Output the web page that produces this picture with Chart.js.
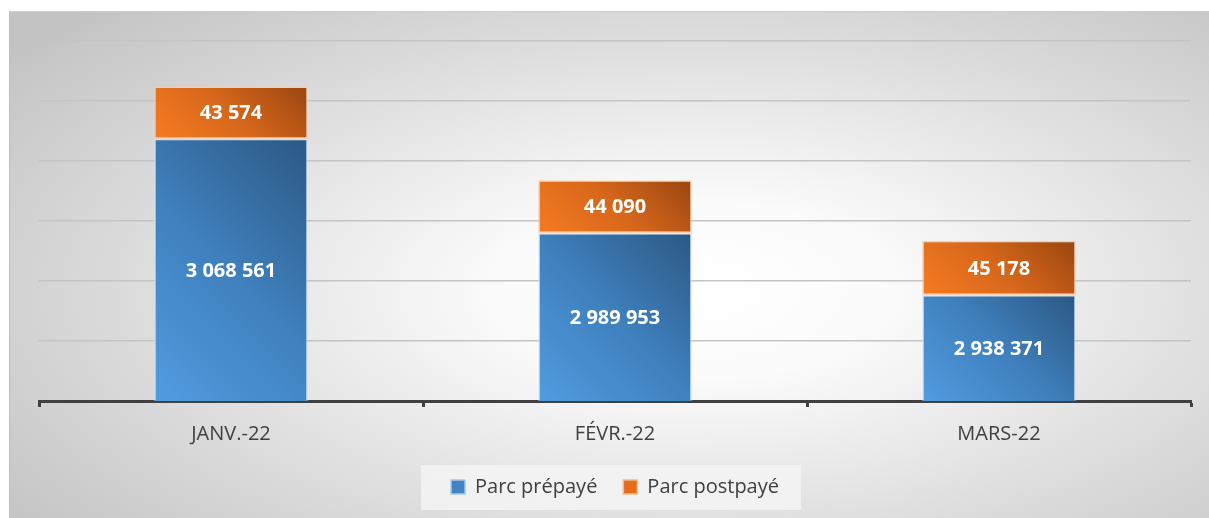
<!DOCTYPE html>
<html>
<head>
<meta charset="utf-8">
<script src="https://cdn.jsdelivr.net/npm/chart.js"></script>
<style>
  html, body { margin: 0; padding: 0; background: #fff; }
  #panel {
    position: absolute; left: 9px; top: 11px; width: 1200px; height: 507px;
    background: radial-gradient(ellipse 72% 78% at 57% 55%, #ffffff 0%, #fbfbfb 22%, #dedede 62%, #c3c3c3 100%);
    border-left: 1px solid #bdbdbd; border-top: 1px solid #cfcfcf; box-sizing: border-box;
  }
</style>
</head>
<body>
<div id="panel"><canvas id="chart" width="1199" height="506"></canvas></div>
<script>
// data
const months = ['JANV.-22', 'FÉVR.-22', 'MARS-22'];
const prepaye = [3068561, 2989953, 2938371];
const postpaye = [43574, 44090, 45178];
const seriesNames = ['Parc prépayé', 'Parc postpayé'];
const yMin = 2850000, yMax = 3150000, yStep = 50000;

const BAR_PCT = 0.4;
const FONT = '"Open Sans", "Noto Sans", sans-serif';
const SOLID = ['#4084c4', '#e46c1c'];

// number with french spaces: 3 068 561
const fmt = v => String(v).replace(/\B(?=(\d{3})+(?!\d))/g, ' ');

// 45deg gradient per bar segment (light bottom-left -> dark top-right)
function segFill(light, mid, dark, solid) {
  return function (ctx) {
    const chart = ctx.chart;
    if (ctx.type !== 'data' || !chart.chartArea) return solid;
    const xs = chart.scales.x, ys = chart.scales.y;
    const i = ctx.dataIndex;
    let base = 0;
    for (let d = 0; d < ctx.datasetIndex; d++) base += chart.data.datasets[d].data[i];
    const top = base + chart.data.datasets[ctx.datasetIndex].data[i];
    const cx = xs.getPixelForValue(i);
    const half = xs.width / months.length * BAR_PCT / 2;
    const yb = ys.getPixelForValue(Math.max(base, yMin));
    const yt = ys.getPixelForValue(top);
    const t = (2 * half + (yb - yt)) / 2;
    const g = chart.ctx.createLinearGradient(cx - half, yb, cx - half + t, yb - t);
    g.addColorStop(0, light);
    g.addColorStop(0.5, mid);
    g.addColorStop(1, dark);
    return g;
  };
}

// white value labels in the middle of each segment
const valueLabels = {
  id: 'valueLabels',
  afterDatasetsDraw(chart) {
    const c = chart.ctx;
    const bottom = chart.chartArea.bottom;
    c.save();
    c.font = 'bold 20px ' + FONT;
    c.fillStyle = '#ffffff';
    c.textAlign = 'center';
    c.textBaseline = 'middle';
    chart.data.datasets.forEach((ds, di) => {
      chart.getDatasetMeta(di).data.forEach((el, i) => {
        const b = Math.min(el.base, bottom);
        c.fillText(fmt(ds.data[i]), el.x, (el.y + b) / 2 + 1);
      });
    });
    c.restore();
  }
};

// light box behind the legend
const legendBox = {
  id: 'legendBox',
  beforeDraw(chart) {
    const lg = chart.legend;
    if (!lg || !lg.legendHitBoxes.length) return;
    const hb = lg.legendHitBoxes;
    const l = hb[0].left - 30, r = hb[hb.length - 1].left + hb[hb.length - 1].width + 22;
    const cy = hb[0].top + hb[0].height / 2;
    const c = chart.ctx;
    c.save();
    c.fillStyle = 'rgba(243,243,243,0.9)';
    c.fillRect(l, cy - 22, r - l, 45);
    c.restore();
  }
};

new Chart(document.getElementById('chart'), {
  type: 'bar',
  data: {
    labels: months,
    datasets: [
      {
        label: seriesNames[0],
        data: prepaye,
        backgroundColor: segFill('#519ce0', '#3f80bd', '#2b5883', SOLID[0]),
        borderColor: 'rgba(200,225,250,0.7)',
        borderWidth: 1.5,
        borderSkipped: false,
        categoryPercentage: 1,
        barPercentage: BAR_PCT
      },
      {
        label: seriesNames[1],
        data: postpaye,
        backgroundColor: segFill('#f67b21', '#d6671b', '#9a4510', SOLID[1]),
        borderColor: 'rgba(250,205,170,0.85)',
        borderWidth: 1.5,
        borderSkipped: false,
        categoryPercentage: 1,
        barPercentage: BAR_PCT
      }
    ]
  },
  options: {
    responsive: false,
    animation: false,
    layout: { padding: { left: 29, right: 18, top: 29, bottom: 11 } },
    scales: {
      x: {
        stacked: true,
        afterFit: s => { s.height -= 10; },
        grid: {
          display: true, drawOnChartArea: false, offset: true,
          tickLength: 6, tickWidth: 3, tickColor: '#404040'
        },
        border: { color: '#404040', width: 3 },
        ticks: { color: '#404040', font: { family: FONT, size: 20 }, padding: 15 }
      },
      y: {
        stacked: true,
        min: yMin, max: yMax,
        ticks: { display: false, stepSize: yStep },
        grid: { color: '#c4c4c4', lineWidth: 1.5, drawTicks: false },
        border: { display: false }
      }
    },
    plugins: {
      legend: {
        position: 'bottom',
        labels: {
          color: '#404040',
          font: { family: FONT, size: 20 },
          boxWidth: 14, boxHeight: 14,
          padding: 26,
          generateLabels: chart => {
            const items = Chart.defaults.plugins.legend.labels.generateLabels(chart);
            items.forEach((it, k) => {
              it.fillStyle = SOLID[k];
              it.strokeStyle = k ? '#f5b98c' : '#a9c9ea';
              it.lineWidth = 1.5;
            });
            return items;
          }
        }
      },
      tooltip: { enabled: false }
    }
  },
  plugins: [legendBox, valueLabels]
});
</script>
</body>
</html>
